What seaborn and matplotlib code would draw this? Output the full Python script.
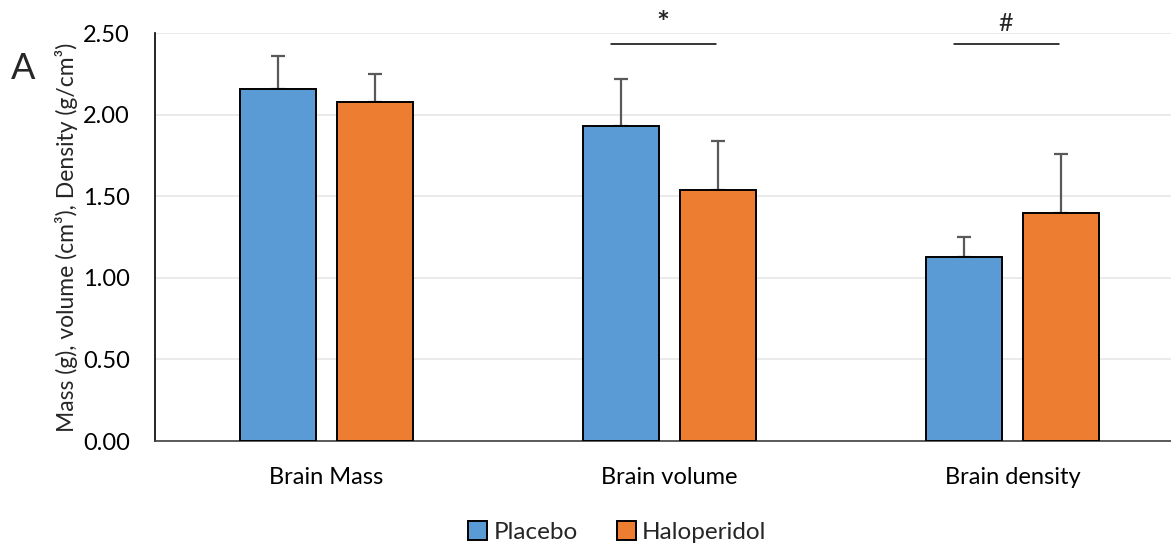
import numpy as np
import pandas as pd
import matplotlib
matplotlib.use('Agg')
import matplotlib.pyplot as plt
import seaborn as sns

# data
categories = ['Brain Mass', 'Brain volume', 'Brain density']
groups = ['Placebo', 'Haloperidol']
placebo_mean = [2.16, 1.93, 1.13]
placebo_sd = [0.20, 0.29, 0.12]
halo_mean = [2.08, 1.54, 1.40]
halo_sd = [0.17, 0.30, 0.36]
sig_marks = ['', '*', '#']

df = pd.DataFrame({
    'Category': categories * 2,
    'Group': ['Placebo'] * 3 + ['Haloperidol'] * 3,
    'Value': placebo_mean + halo_mean,
    'SD': placebo_sd + halo_sd,
})

sns.set_style('white')
plt.rcParams['font.family'] = ['Lato', 'DejaVu Sans']

fig = plt.figure(figsize=(11.71, 5.45), dpi=100)
ax = fig.add_axes([0.1324, 0.1908, 0.8676, 0.7486])

palette = {'Placebo': '#5B9BD5', 'Haloperidol': '#ED7D31'}
sns.barplot(data=df, x='Category', y='Value', hue='Group', order=categories,
            hue_order=groups, palette=palette, width=0.566, gap=0.21,
            edgecolor='black', linewidth=1.4, saturation=1, errorbar=None,
            ax=ax, zorder=3)

# upward-only error bars, taken from the bar positions seaborn placed
for cont, g in zip(ax.containers, groups):
    sub = df[df['Group'] == g].set_index('Category').loc[categories]
    xs = [p.get_x() + p.get_width() / 2 for p in cont.patches]
    ax.errorbar(xs, sub['Value'], yerr=[np.zeros(len(xs)), sub['SD']],
                fmt='none', ecolor='#595959', elinewidth=1.6, capsize=5,
                capthick=1.6, zorder=2)

# significance bars
for i, mark in enumerate(sig_marks):
    if not mark:
        continue
    ax.plot([i - 0.17, i + 0.135], [2.43, 2.43], color='black', lw=1.1)
    if mark == '*':
        ax.text(i - 0.02, 2.47, mark, ha='center', va='bottom', fontsize=22,
                fontweight='bold')
    else:
        ax.text(i - 0.02, 2.49, mark, ha='center', va='bottom', fontsize=18)

ax.set_ylim(0, 2.5)
ax.set_xlim(-0.5, 2.462)
ax.set_yticks([0, 0.5, 1.0, 1.5, 2.0, 2.5])
ax.set_yticklabels(['%.2f' % v for v in [0, 0.5, 1.0, 1.5, 2.0, 2.5]])
ax.yaxis.grid(True, color='#E6E6E6', lw=1.2, zorder=0)
ax.set_axisbelow(True)
ax.tick_params(axis='both', length=0, labelsize=17, colors='black')
ax.tick_params(axis='x', pad=19)
ax.tick_params(axis='y', pad=18)
ax.set_xlabel('')
ax.set_ylabel('Mass (g), volume (cm³), Density (g/cm³)', fontsize=16.5, labelpad=4)
for s in ['top', 'right']:
    ax.spines[s].set_visible(False)
for s in ['left', 'bottom']:
    ax.spines[s].set_color('black')
    ax.spines[s].set_linewidth(1.2)
ax.spines['bottom'].set_color('#404040')

fig.text(0.009, 0.855, 'A', fontsize=26)

ax.legend(loc='center', bbox_to_anchor=(0.455, -0.223), ncol=2,
          frameon=False, fontsize=17.5, handlelength=0.8, handleheight=0.8,
          handletextpad=0.25, columnspacing=1.6)

fig.savefig('out.png', dpi=100)
